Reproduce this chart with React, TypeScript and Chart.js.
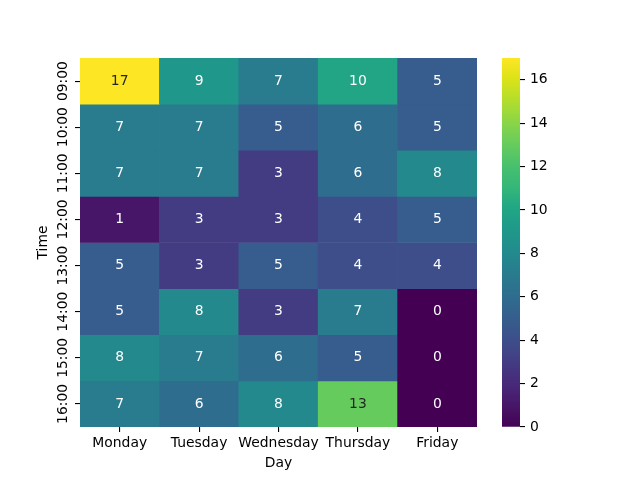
import { useEffect, useRef } from "react";
import { Chart, registerables } from "chart.js";

Chart.register(...registerables);

const days = ["Monday", "Tuesday", "Wednesday", "Thursday", "Friday"];
const times = ["09:00", "10:00", "11:00", "12:00", "13:00", "14:00", "15:00", "16:00"];

const row0900 = [17, 9, 7, 10, 5];
const row1000 = [7, 7, 5, 6, 5];
const row1100 = [7, 7, 3, 6, 8];
const row1200 = [1, 3, 3, 4, 5];
const row1300 = [5, 3, 5, 4, 4];
const row1400 = [5, 8, 3, 7, 0];
const row1500 = [8, 7, 6, 5, 0];
const row1600 = [7, 6, 8, 13, 0];
const values = [row0900, row1000, row1100, row1200, row1300, row1400, row1500, row1600];

const colorbarTicks = [0, 2, 4, 6, 8, 10, 12, 14, 16];
const vmin = 0;
const vmax = 17;

const FONT = "DejaVu Sans";
const FS = 13.9;

const VIRIDIS: number[][] = [
  [68, 1, 84], [71, 19, 101], [72, 36, 117], [70, 51, 127], [65, 68, 135],
  [59, 82, 139], [53, 95, 141], [47, 108, 142], [42, 120, 142], [37, 132, 142],
  [33, 145, 140], [30, 156, 137], [34, 168, 132], [53, 183, 121], [68, 191, 112],
  [94, 201, 98], [122, 209, 81], [155, 217, 60], [189, 223, 38], [223, 227, 24],
  [253, 231, 37],
];

function viridisRGB(t: number): number[] {
  const c = Math.max(0, Math.min(1, t)) * (VIRIDIS.length - 1);
  const i = Math.min(Math.floor(c), VIRIDIS.length - 2);
  const f = c - i;
  const a = VIRIDIS[i];
  const b = VIRIDIS[i + 1];
  return [0, 1, 2].map((k) => Math.round(a[k] + (b[k] - a[k]) * f));
}
function rgbStr(c: number[]) {
  return `rgb(${c[0]},${c[1]},${c[2]})`;
}
function norm(v: number) {
  return (v - vmin) / (vmax - vmin);
}
function luminance(c: number[]) {
  const l = c.map((x) => {
    const s = x / 255;
    return s <= 0.03928 ? s / 12.92 : Math.pow((s + 0.055) / 1.055, 2.4);
  });
  return 0.2126 * l[0] + 0.7152 * l[1] + 0.0722 * l[2];
}

const annotatePlugin = {
  id: "annotate",
  afterDatasetsDraw(chart: any) {
    const ctx = chart.ctx;
    ctx.save();
    ctx.font = `${FS}px "${FONT}"`;
    ctx.textAlign = "center";
    ctx.textBaseline = "middle";
    chart.data.datasets.forEach((ds: any, r: number) => {
      const meta = chart.getDatasetMeta(r);
      meta.data.forEach((el: any, c: number) => {
        const v = values[r][c];
        const col = viridisRGB(norm(v));
        ctx.fillStyle = luminance(col) > 0.408 ? "#262626" : "#ffffff";
        const p = el.getCenterPoint();
        ctx.fillText(String(v), p.x, p.y);
      });
    });
    ctx.restore();
  },
};

export default function App() {
  const mainRef = useRef<HTMLCanvasElement>(null);
  const cbRef = useRef<HTMLCanvasElement>(null);

  useEffect(() => {
    document.body.style.margin = "0";
    const main = new Chart(mainRef.current as HTMLCanvasElement, {
      type: "bar",
      data: {
        labels: days,
        datasets: times.map((t, r) => ({
          label: t,
          data: days.map(() => [r, r + 1]),
          backgroundColor: values[r].map((v) => rgbStr(viridisRGB(norm(v)))),
          borderWidth: 0,
          barPercentage: 1,
          categoryPercentage: 1,
        })) as any,
      },
      options: {
        responsive: false,
        animation: false,
        layout: { padding: { left: 35, top: 58, right: 163, bottom: 0 } },
        plugins: { legend: { display: false }, tooltip: { enabled: false } },
        scales: {
          x: {
            stacked: true,
            grid: {
              offset: false,
              drawOnChartArea: false,
              drawTicks: true,
              tickLength: 5,
              tickColor: "#000",
              lineWidth: 1.1,
            },
            border: { display: false },
            ticks: { color: "#000", font: { family: FONT, size: FS }, padding: 3, maxRotation: 0, autoSkip: false },
            title: { display: true, text: "Day", color: "#000", font: { family: FONT, size: FS }, padding: { top: 0, bottom: 8 } },
            afterFit: (s: any) => {
              s.height = 53;
            },
          },
          y: {
            type: "linear",
            stacked: false,
            min: 0,
            max: 8,
            reverse: true,
            afterBuildTicks: (s: any) => {
              s.ticks = times.map((_, i) => ({ value: i + 0.5 }));
            },
            grid: {
              drawOnChartArea: false,
              drawTicks: true,
              tickLength: 5,
              tickColor: "#000",
              lineWidth: 1.1,
            },
            border: { display: false },
            ticks: {
              color: "#000",
              font: { family: FONT, size: FS },
              minRotation: 90,
              maxRotation: 90,
              crossAlign: "center",
              padding: -8,
              autoSkip: false,
              callback: (_v: any, i: number) => times[i],
            },
            title: { display: true, text: "Time", color: "#000", font: { family: FONT, size: FS }, padding: 0 },
            afterFit: (s: any) => {
              s.width = 45;
            },
          },
        },
      },
      plugins: [annotatePlugin],
    } as any);

    const cb = new Chart(cbRef.current as HTMLCanvasElement, {
      type: "bar",
      data: {
        labels: ["cb"],
        datasets: [
          {
            data: [[vmin, vmax]],
            borderWidth: 0,
            barPercentage: 1,
            categoryPercentage: 1,
            backgroundColor: (ctx: any) => {
              const area = ctx.chart.chartArea;
              if (!area) return "#888";
              const g = ctx.chart.ctx.createLinearGradient(0, area.bottom, 0, area.top);
              VIRIDIS.forEach((c, i) => g.addColorStop(i / (VIRIDIS.length - 1), rgbStr(c)));
              return g;
            },
          },
        ] as any,
      },
      options: {
        responsive: false,
        animation: false,
        layout: { padding: { left: 22, top: 58, right: 0, bottom: 53 } },
        plugins: { legend: { display: false }, tooltip: { enabled: false } },
        scales: {
          x: { display: false },
          y: {
            position: "right",
            min: vmin,
            max: vmax,
            afterBuildTicks: (s: any) => {
              s.ticks = colorbarTicks.map((v) => ({ value: v }));
            },
            grid: {
              drawOnChartArea: false,
              drawTicks: true,
              tickLength: 5,
              tickColor: "#000",
              lineWidth: 1.1,
            },
            border: { display: false },
            ticks: { color: "#000", font: { family: FONT, size: FS }, padding: 5 },
            afterFit: (s: any) => {
              s.width = 120;
            },
          },
        },
      },
    } as any);

    return () => {
      main.destroy();
      cb.destroy();
    };
  }, []);

  return (
    <div style={{ position: "fixed", left: 0, top: 0, width: 640, height: 480, background: "#fff" }}>
      <canvas ref={mainRef} width={640} height={480} style={{ position: "absolute", left: 0, top: 0 }} />
      <canvas ref={cbRef} width={160} height={480} style={{ position: "absolute", left: 480, top: 0 }} />
    </div>
  );
}
